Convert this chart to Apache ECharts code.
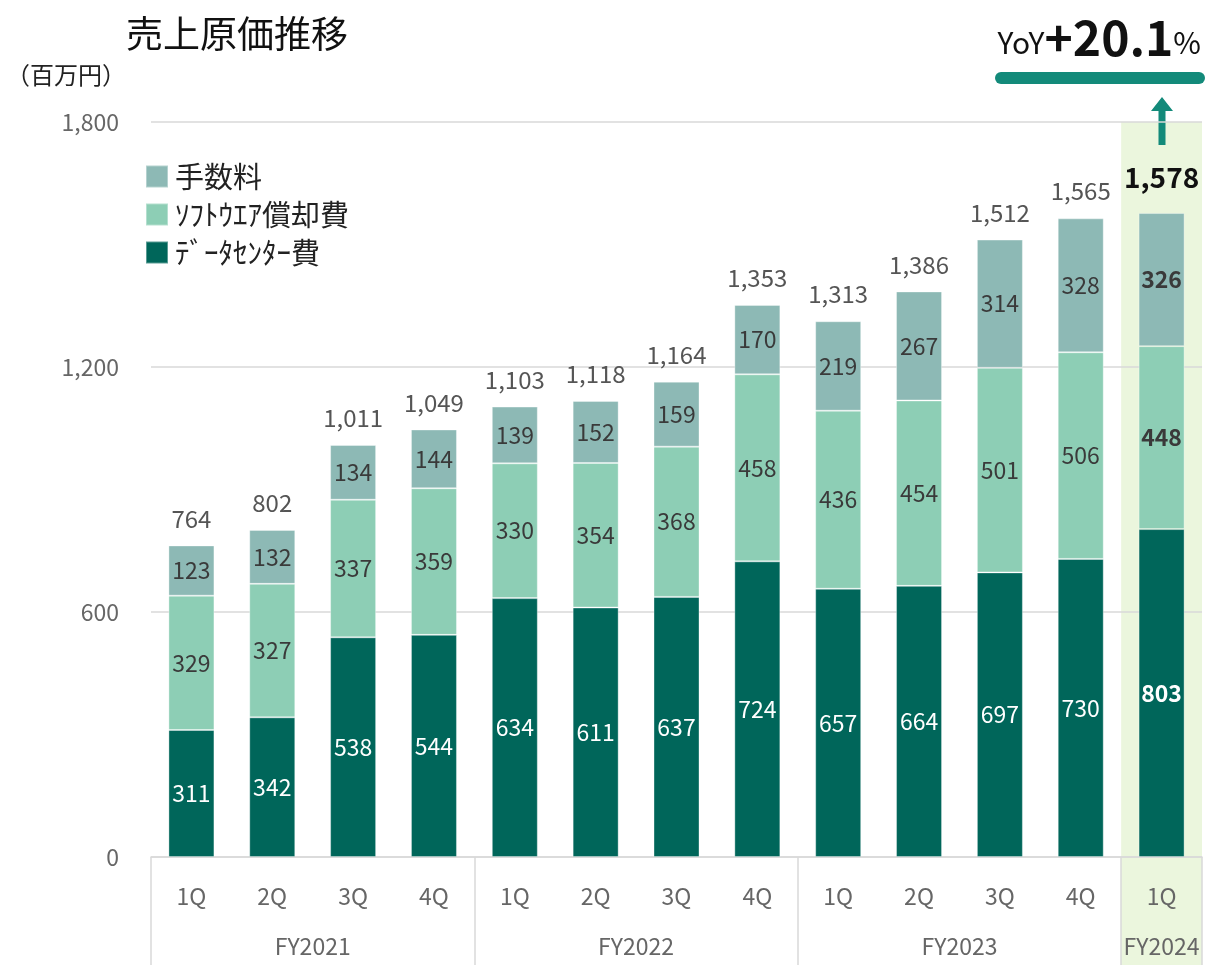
<!DOCTYPE html>
<html>
<head>
<meta charset="utf-8">
<script src="https://cdn.jsdelivr.net/npm/echarts@6/dist/echarts.min.js"></script>
<style>
  html, body { margin: 0; padding: 0; background: #fff; }
  #chart { width: 1205px; height: 965px; }
</style>
</head>
<body>
<div id="chart"></div>
<script>
const quarters = ['1Q', '2Q', '3Q', '4Q', '1Q', '2Q', '3Q', '4Q', '1Q', '2Q', '3Q', '4Q', '1Q']
const fiscalYears = ['FY2021', 'FY2022', 'FY2023', 'FY2024']
const fyCenters = [2, 6, 10, 12.5]
const fyBounds = [0, 4, 8, 12, 13]

const dataCenter = [311, 342, 538, 544, 634, 611, 637, 724, 657, 664, 697, 730, 803]
const software = [329, 327, 337, 359, 330, 354, 368, 458, 436, 454, 501, 506, 448]
const fees = [123, 132, 134, 144, 139, 152, 159, 170, 219, 267, 314, 328, 326]
const totals = [764, 802, 1011, 1049, 1103, 1118, 1164, 1353, 1313, 1386, 1512, 1565, 1578]

const yTicks = [0, 600, 1200, 1800]

const FONT = '"Noto Sans CJK JP", "Noto Sans", sans-serif'
const LAST = quarters.length - 1
const ACCENT = '#138a7a'

const chart = echarts.init(document.getElementById('chart'))

function stackData(values) {
  return values.map((v, i) => (i === LAST ? { value: v, label: { fontWeight: 'bold' } } : v))
}

function segment(name, values, color, labelColor) {
  return {
    name,
    type: 'bar',
    stack: 'cost',
    barWidth: 46,
    data: stackData(values),
    itemStyle: { color, borderColor: 'rgba(255,255,255,0.35)', borderWidth: 1 },
    label: {
      show: true,
      position: 'inside',
      color: labelColor,
      fontSize: 23,
      fontFamily: FONT
    },
    emphasis: { disabled: true },
    z: 3
  }
}

const option = {
  animation: false,
  textStyle: { fontFamily: FONT },
  grid: { left: 151, right: 3, top: 122, bottom: 108 },
  legend: {
    data: ['手数料', 'ｿﾌﾄｳｴｱ償却費', 'ﾃﾞｰﾀｾﾝﾀｰ費'],
    orient: 'vertical',
    left: 140,
    top: 157,
    itemWidth: 22,
    itemHeight: 22,
    itemGap: 9,
    icon: 'rect',
    selectedMode: false,
    textStyle: { fontSize: 29, color: '#222', fontFamily: FONT, padding: [0, 0, 0, 2] }
  },
  xAxis: [
    {
      type: 'category',
      data: quarters,
      axisLine: { lineStyle: { color: '#d9d9d9', width: 1.5 } },
      axisTick: { show: false },
      axisLabel: { color: '#666', fontSize: 23, margin: 28, fontFamily: FONT }
    },
    {
      type: 'value',
      position: 'bottom',
      min: 0,
      max: 13,
      axisLine: { show: false },
      splitLine: { show: false },
      axisTick: {
        show: true,
        customValues: fyBounds,
        length: 110,
        lineStyle: { color: '#d9d9d9', width: 1.5 }
      },
      axisLabel: {
        customValues: fyCenters,
        formatter: v => fiscalYears[fyCenters.indexOf(v)] || '',
        color: '#666',
        fontSize: 23,
        margin: 78,
        fontFamily: FONT
      }
    }
  ],
  yAxis: {
    type: 'value',
    min: 0,
    max: 1800,
    interval: 600,
    axisLine: { show: false },
    axisTick: { show: false },
    splitLine: { lineStyle: { color: '#d9d9d9', width: 1.5 } },
    axisLabel: {
      color: '#666',
      fontSize: 23,
      margin: 32,
      fontFamily: FONT,
      formatter: v => v.toLocaleString('en-US')
    }
  },
  series: [
    segment('ﾃﾞｰﾀｾﾝﾀｰ費', dataCenter, '#00665a', '#fff'),
    segment('ｿﾌﾄｳｴｱ償却費', software, '#8dceb5', '#3a3a3a'),
    segment('手数料', fees, '#8db9b5', '#3a3a3a'),
    {
      name: 'total',
      type: 'bar',
      stack: 'cost',
      barWidth: 46,
      data: totals.map((t, i) => ({
        value: 0,
        label: i === LAST ? { fontWeight: 'bold', fontSize: 28, color: '#111', distance: 22 } : {}
      })),
      itemStyle: { color: 'transparent' },
      label: {
        show: true,
        position: 'top',
        distance: 15,
        color: '#555',
        fontSize: 24,
        fontFamily: FONT,
        formatter: p => totals[p.dataIndex].toLocaleString('en-US')
      },
      emphasis: { disabled: true },
      z: 3
    }
  ],
  graphic: [
    {
      id: 'title',
      type: 'text',
      left: 126,
      top: 15,
      style: { text: '売上原価推移', fill: '#111', font: '37px ' + FONT }
    },
    {
      id: 'unit',
      type: 'text',
      left: 6,
      top: 63,
      style: { text: '（百万円）', fill: '#222', font: '24px ' + FONT }
    },
    {
      id: 'yoy',
      type: 'text',
      right: 4,
      top: 14,
      style: {
        text: '{a|YoY}{b|+20.1}{a|%}',
        rich: {
          a: { fontSize: 30, fill: '#111', fontFamily: FONT, verticalAlign: 'bottom', padding: [0, 0, 4, 0] },
          b: { fontSize: 48, fontWeight: 'bold', fill: '#111', fontFamily: FONT, verticalAlign: 'bottom' }
        }
      }
    },
    {
      id: 'yoyLine',
      type: 'line',
      shape: { x1: 1001, y1: 78, x2: 1199, y2: 78 },
      style: { stroke: ACCENT, lineWidth: 12, lineCap: 'round' }
    },
    {
      id: 'arrow',
      type: 'polygon',
      shape: {
        points: [[1162, 97], [1173, 111], [1165.5, 111], [1165.5, 145], [1158.5, 145], [1158.5, 111], [1151, 111]]
      },
      style: { fill: ACCENT }
    }
  ]
}

chart.setOption(option)

// light-green highlight behind the latest quarter, placed from the axis scale
const c12 = chart.convertToPixel({ xAxisIndex: 0 }, LAST)
const c11 = chart.convertToPixel({ xAxisIndex: 0 }, LAST - 1)
const half = (c12 - c11) / 2
const yTop = chart.convertToPixel({ yAxisIndex: 0 }, yTicks[yTicks.length - 1])
chart.setOption({
  graphic: [
    {
      id: 'highlight',
      type: 'rect',
      z: -10,
      silent: true,
      shape: { x: c12 - half, y: yTop, width: half * 2, height: chart.getHeight() - yTop },
      style: { fill: '#ebf6dd' }
    }
  ]
})
</script>
</body>
</html>
